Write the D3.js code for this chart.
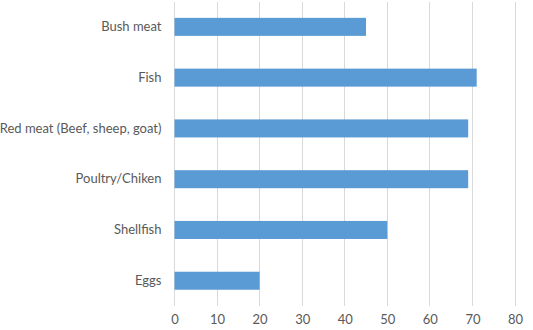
<!DOCTYPE html>
<html>
<head>
<meta charset="utf-8">
<script src="https://cdn.jsdelivr.net/npm/d3@7"></script>
<style>
  body { margin: 0; background: #fff; }
  svg text { font-family: Lato, "Open Sans", sans-serif; fill: #595959; }
</style>
</head>
<body>
<div id="chart"></div>
<script>
// --- data
const categories = ["Bush meat", "Fish", "Red meat (Beef, sheep, goat)", "Poultry/Chiken", "Shellfish", "Eggs"];
const values = [45, 71, 69, 69, 50, 20];
const xTicks = [0, 10, 20, 30, 40, 50, 60, 70, 80];

const W = 533, H = 330;
const margin = {top: 1.6, right: 18, bottom: 24, left: 174.5};
const width = W - margin.left - margin.right;
const height = H - margin.top - margin.bottom;

const svg = d3.select("#chart").append("svg")
  .attr("width", W).attr("height", H);
const g = svg.append("g").attr("transform", `translate(${margin.left},${margin.top})`);

const x = d3.scaleLinear().domain([0, 80]).range([0, 340.5]);
const y = d3.scaleBand().domain(categories).range([0, height]).paddingInner(0.645).paddingOuter(0.32);

// gridlines
g.append("g").selectAll("line").data(xTicks).join("line")
  .attr("x1", d => x(d)).attr("x2", d => x(d))
  .attr("y1", 0).attr("y2", height)
  .attr("stroke", "#d9d9d9").attr("stroke-width", 1)
  .attr("shape-rendering", "crispEdges");

// bars
g.append("g").selectAll("rect").data(values).join("rect")
  .attr("x", x(0))
  .attr("y", (d, i) => y(categories[i]))
  .attr("width", d => x(d) - x(0))
  .attr("height", y.bandwidth())
  .attr("fill", "#5b9bd5");

// x axis labels
const xAxis = g.append("g").attr("transform", `translate(0,${height})`)
  .call(d3.axisBottom(x).tickValues(xTicks).tickSize(0).tickPadding(9));
xAxis.select(".domain").remove();
xAxis.selectAll("text").style("font-size", "13px").style("fill", "#595959")
  .style("font-family", "Lato, sans-serif");

// y axis labels
const yAxis = g.append("g")
  .call(d3.axisLeft(y).tickSize(0).tickPadding(13));
yAxis.select(".domain").remove();
yAxis.selectAll("text").style("font-size", "13px").style("fill", "#595959")
  .style("font-family", "Lato, sans-serif");
</script>
</body>
</html>
